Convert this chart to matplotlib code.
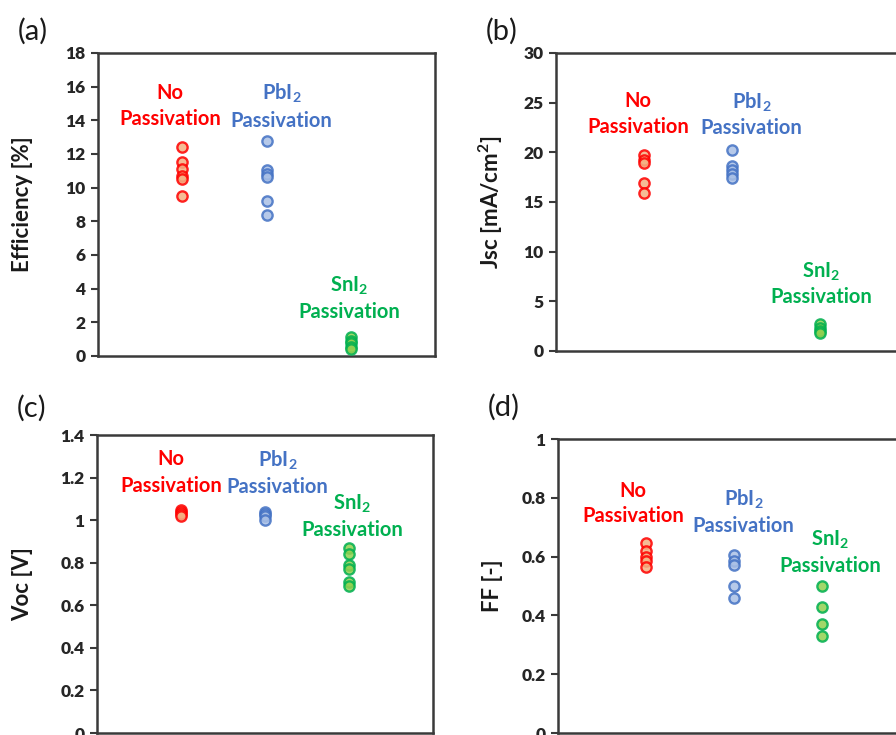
import matplotlib
matplotlib.use("Agg")
import matplotlib.pyplot as plt

plt.rcParams['font.family'] = ['Lato', 'DejaVu Sans']
plt.rcParams['mathtext.fontset'] = 'custom'
plt.rcParams['mathtext.rm'] = 'Lato'
plt.rcParams['mathtext.bf'] = 'Lato:bold'
plt.rcParams['mathtext.default'] = 'bf'

# ---- data ----
groups = ["No Passivation", "PbI2 Passivation", "SnI2 Passivation"]
group_pos = [1, 2, 3]

eff_no = [12.4, 11.5, 11.1, 10.7, 10.5, 9.5]
eff_pbi2 = [12.75, 11.05, 10.8, 10.65, 9.2, 8.35]
eff_sni2 = [1.1, 0.9, 0.75, 0.55, 0.4]

jsc_no = [19.7, 19.2, 18.9, 16.9, 15.9]
jsc_pbi2 = [20.2, 18.6, 18.2, 17.8, 17.4]
jsc_sni2 = [2.7, 2.3, 2.0, 1.8]

voc_no = [1.05, 1.04, 1.03, 1.02]
voc_pbi2 = [1.04, 1.03, 1.02, 1.0]
voc_sni2 = [0.87, 0.84, 0.79, 0.77, 0.71, 0.69]

ff_no = [0.645, 0.62, 0.60, 0.585, 0.565]
ff_pbi2 = [0.605, 0.585, 0.57, 0.50, 0.46]
ff_sni2 = [0.50, 0.43, 0.37, 0.33]

ylabels = ["Efficiency [%]", "Jsc [mA/cm$^{\\mathregular{2}}$]", "Voc [V]", "FF [-]"]
panel_letters = ["(a)", "(b)", "(c)", "(d)"]
yticks_list = [
    [0, 2, 4, 6, 8, 10, 12, 14, 16, 18],
    [0, 5, 10, 15, 20, 25, 30],
    [0, 0.2, 0.4, 0.6, 0.8, 1.0, 1.2, 1.4],
    [0, 0.2, 0.4, 0.6, 0.8, 1.0],
]
ytick_labels = [
    ["0", "2", "4", "6", "8", "10", "12", "14", "16", "18"],
    ["0", "5", "10", "15", "20", "25", "30"],
    ["0", "0.2", "0.4", "0.6", "0.8", "1", "1.2", "1.4"],
    ["0", "0.2", "0.4", "0.6", "0.8", "1"],
]
ylims = [(0, 18), (0, 30), (0, 1.4), (0, 1.0)]

# ---- style ----
edge_colors = ["#FF0000", "#4472C4", "#00B050"]
face_colors = ["#F4B183", "#A9C0E6", "#92D050"]
label_line1 = ["No", "PbI$_{2}$", "SnI$_{2}$"]
label_line2 = "Passivation"

W, H = 896, 735
fig = plt.figure(figsize=(W / 100, H / 100), dpi=100)

def px_axes(left, top, right, bottom):
    return fig.add_axes([left / W, 1 - bottom / H, (right - left) / W, (bottom - top) / H])

axes = [
    px_axes(98, 53, 435, 356),
    px_axes(556, 53, 908, 351),
    px_axes(97, 435, 433, 733),
    px_axes(558, 439, 910, 733),
]

all_data = [
    [eff_no, eff_pbi2, eff_sni2],
    [jsc_no, jsc_pbi2, jsc_sni2],
    [voc_no, voc_pbi2, voc_sni2],
    [ff_no, ff_pbi2, ff_sni2],
]

# label placement (x, baseline y line1, baseline y line2) per group, data coords
label_xy = [
    [(0.855, 15.29, 13.73), (2.18, 15.21, 13.62), (2.98, 3.82, 2.24)],
    [(0.93, 24.6, 21.93), (2.22, 24.44, 21.85), (3.01, 7.38, 4.8)],
    [(0.88, 1.259, 1.134), (2.15, 1.251, 1.129), (3.04, 1.051, 0.927)],
    [(0.85, 0.804, 0.716), (2.11, 0.772, 0.682), (3.09, 0.636, 0.547)],
]

ylabel_x = [-0.223, -0.185, -0.22, -0.185]
letter_px = [(33, 31), (502, 31), (32, 408), (504, 407)]

spine_col = "#3a3a3a"
for i, ax in enumerate(axes):
    for j, vals in enumerate(all_data[i]):
        ax.plot([group_pos[j]] * len(vals), vals, linestyle="none", marker="o",
                markersize=7.4, markeredgewidth=1.7,
                markeredgecolor=edge_colors[j], markerfacecolor=face_colors[j],
                alpha=0.85, clip_on=False, zorder=3)
        lx, ly1, ly2 = label_xy[i][j]
        ax.text(lx, ly1, label_line1[j], color=edge_colors[j], fontsize=14.5,
                fontweight="bold", ha="center", va="baseline")
        ax.text(lx, ly2, label_line2, color=edge_colors[j], fontsize=14.5,
                fontweight="bold", ha="center", va="baseline")
    ax.set_xlim(0, 4)
    ax.set_ylim(*ylims[i])
    ax.set_xticks([])
    ax.set_yticks(yticks_list[i])
    ax.set_yticklabels(ytick_labels[i], fontsize=12.5, fontweight="heavy", color="#262626")
    ax.tick_params(axis="y", direction="out", length=5, width=1.5, color=spine_col, pad=4)
    for s in ax.spines.values():
        s.set_linewidth(1.8)
        s.set_color(spine_col)
    ax.set_ylabel(ylabels[i], fontsize=16, fontweight="bold", color="#1a1a1a", va="center")
    ax.yaxis.set_label_coords(ylabel_x[i], 0.5)
    fx, fy = letter_px[i]
    fig.text(fx / W, 1 - fy / H, panel_letters[i], fontsize=21, ha="center", va="center",
             color="#1a1a1a")

fig.savefig("out.png", dpi=100)
